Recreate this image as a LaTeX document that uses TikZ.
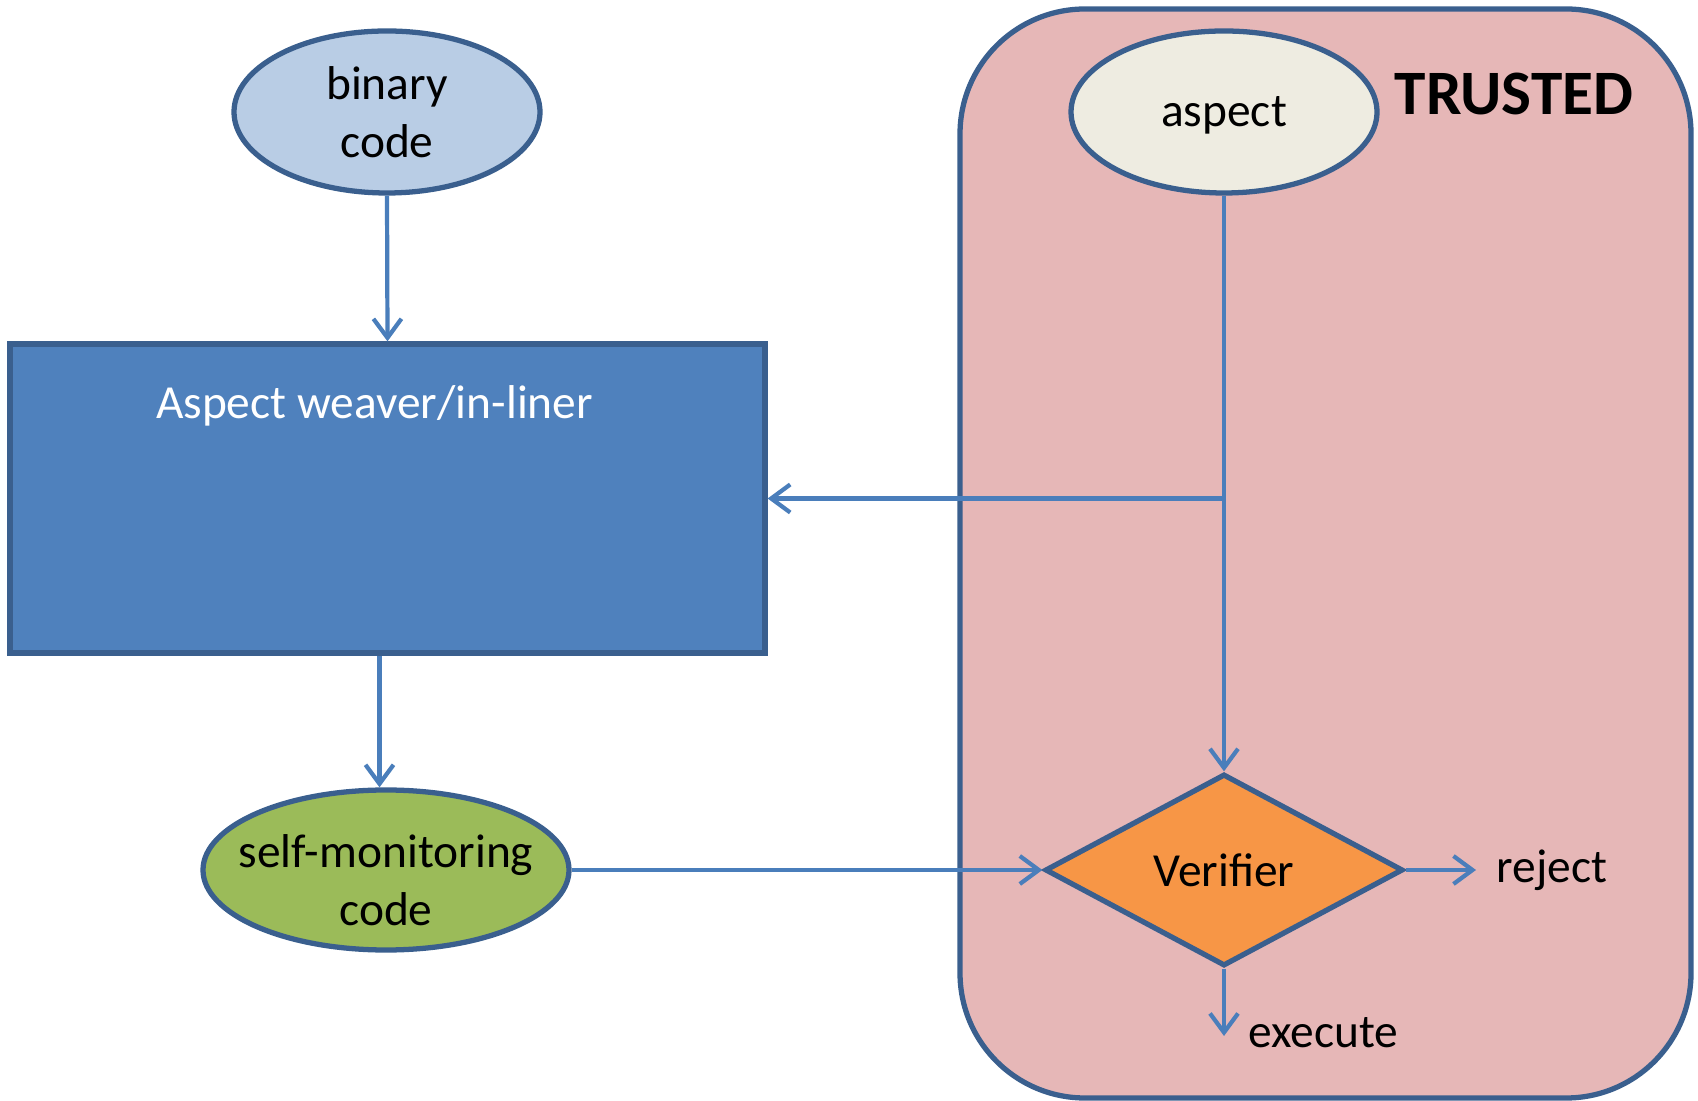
\documentclass[tikz,border=0pt]{standalone}
\usepackage{fontspec}
\setmainfont{Carlito}
\usetikzlibrary{shapes.geometric,arrows.meta,positioning}

\definecolor{edgeblue}{HTML}{3A5F8E}
\definecolor{arrowblue}{HTML}{4A7EBB}
\definecolor{binaryfill}{HTML}{B9CDE5}
\definecolor{weaverfill}{HTML}{4F81BD}
\definecolor{monfill}{HTML}{9BBB59}
\definecolor{aspectfill}{HTML}{EEECE1}
\definecolor{trustfill}{HTML}{E6B7B7}
\definecolor{verifill}{HTML}{F79646}

\begin{document}
\begin{tikzpicture}[
    every node/.style={font=\fontsize{13.5}{16.5}\selectfont},
    blob/.style={ellipse, draw=edgeblue, line width=1.5pt, inner sep=0pt, align=center},
    arr/.style={draw=arrowblue, line width=1.2pt, -{Straight Barb[length=1.9mm,width=2.8mm]}},
    lbl/.style={inner sep=0pt}
]
    \useasboundingbox (0,0) rectangle (16.98,11);

    % Trusted region
    \node[draw=edgeblue, fill=trustfill, line width=1.5pt, rounded corners=1.25cm,
          minimum width=7.31cm, minimum height=10.89cm] (trusted) at (13.255,5.465) {};
    \node[lbl, font=\fontsize{18}{21}\selectfont\bfseries] (trustlabel) at (15.14,10.06) {TRUSTED};

    % Define the nodes
    \node[blob, fill=binaryfill, minimum width=3.06cm, minimum height=1.62cm] (binary) at (3.87,9.88) {binary\\code};
    \node[blob, fill=aspectfill, minimum width=3.06cm, minimum height=1.62cm] (aspect) at (12.24,9.88) {};
    \node[lbl] (aspecttext) at ([yshift=-0.03cm]aspect.center) {aspect};
    \node[draw=edgeblue, fill=weaverfill, line width=1.5pt, minimum width=7.55cm, minimum height=3.09cm] (weaver) at (3.875,6.015) {};
    \node[lbl, text=white] (weavertext) at ([xshift=-0.13cm,yshift=-0.64cm]weaver.north) {Aspect weaver/in-liner};
    \node[blob, fill=monfill, minimum width=3.66cm, minimum height=1.60cm] (selfmon) at (3.86,2.30) {};
    \node[lbl, align=center] (selfmontext) at ([yshift=-0.1cm]selfmon.center) {self-monitoring\\code};
    \node[diamond, draw=edgeblue, fill=verifill, line width=1.5pt, inner sep=0pt, aspect=1.86,
          minimum width=3.58cm, minimum height=1.92cm] (verifier) at (12.24,2.30) {Verifier};
    \node[lbl, anchor=west] (reject) at (14.96,2.30) {reject};
    \coordinate (execend) at (12.24,0.64);
    \node[lbl, anchor=west] (execute) at (12.48,0.67) {execute};
    \coordinate (branch) at (aspect.south |- weaver.east);

    % Draw the arrows
    \draw[arr] (binary.south) -- (weaver.north);
    \draw[arr] ([xshift=-0.08cm]weaver.south) -- ([xshift=-0.08cm]weaver.south |- selfmon.north);
    \draw[arr] (aspect.south) -- (verifier.north);
    \draw[arr] (branch) -- (weaver.east);
    \draw[arr] (selfmon.east) -- (verifier.west);
    \draw[arr] (verifier.east) -- ([xshift=-0.2cm]reject.west);
    \draw[arr] (verifier.south) -- (execend);
\end{tikzpicture}
\end{document}
